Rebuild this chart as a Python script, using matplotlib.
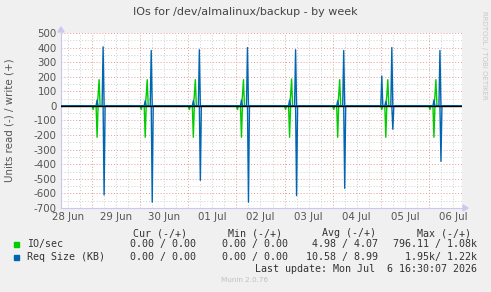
import numpy as np
import matplotlib
matplotlib.use("Agg")
import matplotlib.pyplot as plt
from matplotlib.patches import Rectangle

# ---------------- data ----------------
day_labels = ["28 Jun", "29 Jun", "30 Jun", "01 Jul", "02 Jul", "03 Jul", "04 Jul", "05 Jul", "06 Jul"]
spike_days = [1, 2, 3, 4, 5, 6, 7, 8]          # days (from 28 Jun) having the nightly burst
# IO/sec
io_read_small = [25, 25, 25, 25, 25, 25, 25, 25]
io_read_peak = [215, 215, 215, 215, 215, 215, 215, 215]
io_write_ramp = [70, 70, 70, 70, 70, 70, 70, 70]
io_write_peak = [180, 180, 180, 180, 185, 180, 180, 180]
# Req Size (KB)
size_write_small = [40, 35, 35, 40, 40, 35, 30, 40]
size_write_peak = [405, 380, 385, 400, 385, 380, 400, 380]
size_read_peak = [610, 660, 510, 660, 615, 565, 160, 380]
size_extra_day = [7]
size_extra_write = [205]
# burst times (hours after midnight)
t_io_read_small = 0.5
t_io_read_peak = 2.5
t_io_write_ramp = 3.0
t_io_write_peak = 3.5
t_size_write_small = 2.5
t_size_write_peak = 5.5
t_size_read_peak = 6.0
t_size_extra = 0.5

t_start, t_end, step = 8.5, 208.5, 0.5   # hours since 28 Jun 00:00

t = np.arange(t_start, t_end + step / 2, step)
io_r = np.zeros_like(t); io_w = np.zeros_like(t)
sz_r = np.zeros_like(t); sz_w = np.zeros_like(t)

def put(arr, hour, val):
    i = int(round((hour - t_start) / step))
    if 0 <= i < len(arr):
        arr[i] = val

for k, d in enumerate(spike_days):
    base = d * 24
    put(io_r, base + t_io_read_small, io_read_small[k])
    put(io_r, base + t_io_read_peak, io_read_peak[k])
    put(io_w, base + t_io_write_ramp, io_write_ramp[k])
    put(io_w, base + t_io_write_peak, io_write_peak[k])
    put(sz_w, base + t_size_write_small, size_write_small[k])
    put(sz_w, base + t_size_write_peak, size_write_peak[k])
    put(sz_r, base + t_size_read_peak, size_read_peak[k])
for d, v in zip(size_extra_day, size_extra_write):
    put(sz_w, d * 24 + t_size_extra, v)

GREEN = "#00CC00"
BLUE = "#0066B3"

# ---------------- figure ----------------
W, H = 491, 292
fig = plt.figure(figsize=(W / 100, H / 100), dpi=100, facecolor="#F0F0F0")
L, R, T, B = 61, 462, 33, 208
ax = fig.add_axes([L / W, 1 - B / H, (R - L) / W, (B - T) / H])
ax.set_facecolor("white")
ax.set_xlim(t_start, t_end)
ax.set_ylim(-700, 500)

# grid
MINOR = "#CFCFCF"
MAJOR = "#EE9999"
for y in np.arange(-650, 500, 100):
    ax.axhline(y, color=MINOR, lw=0.7, ls=(0, (1, 2)), zorder=1)
for y in np.arange(-600, 501, 100):
    ax.axhline(y, color=MAJOR, lw=0.7, ls=(0, (1, 2)), zorder=1)
for h in np.arange(12, t_end, 6):
    if h % 24 != 0:
        ax.axvline(h, color=MINOR, lw=0.7, ls=(0, (1, 2)), zorder=1)
for h in np.arange(24, t_end, 24):
    ax.axvline(h, color=MAJOR, lw=0.7, ls=(0, (1, 2)), zorder=1)

ax.plot(t, io_w, color=GREEN, lw=1.0, zorder=3)
ax.plot(t, -io_r, color=GREEN, lw=1.0, zorder=3)
ax.plot(t, sz_w, color=BLUE, lw=1.0, zorder=4)
ax.plot(t, -sz_r, color=BLUE, lw=1.0, zorder=4)
ax.axhline(0, color="black", lw=1.0, zorder=5)

for s in ["top", "right"]:
    ax.spines[s].set_visible(False)
for s in ["left", "bottom"]:
    ax.spines[s].set_color("#C8C8F0")
    ax.spines[s].set_linewidth(0.8)

ax.set_yticks(np.arange(-700, 501, 100))
ax.set_yticklabels([str(v) for v in range(-700, 501, 100)])
ax.set_xticks([12 + 24 * i for i in range(len(day_labels))])
ax.set_xticklabels(day_labels)
ax.tick_params(length=0, labelsize=7.4, colors="#555555", pad=3)

# axis arrows
fig.patches.append(plt.Polygon([[(L - 3) / W, 1 - (T - 1) / H], [(L + 3) / W, 1 - (T - 1) / H], [L / W, 1 - (T - 6) / H]],
                               closed=True, transform=fig.transFigure, color="#C8C8F0", zorder=10))
fig.patches.append(plt.Polygon([[(R + 1) / W, 1 - (B - 3) / H], [(R + 1) / W, 1 - (B + 3) / H], [(R + 6) / W, 1 - B / H]],
                               closed=True, transform=fig.transFigure, color="#C8C8F0", zorder=10))

def fx(x): return x / W
def fy(y): return 1 - y / H

fig.text(fx(245), fy(12), "IOs for /dev/almalinux/backup - by week", ha="center", va="center",
         fontsize=8, color="#444444")
fig.text(fx(10), fy(120), "Units read (-) / write (+)", rotation=90, ha="center", va="center",
         fontsize=7.4, color="#555555")
fig.text(fx(484), fy(55), "RRDTOOL / TOBI OETIKER", rotation=270, ha="center", va="center",
         fontsize=5, color="#C8C8C8")

mono = dict(family="DejaVu Sans Mono", fontsize=7.2, color="#333333", va="center")
fig.text(fx(133), fy(233), "Cur (-/+)", ha="left", **mono)
fig.text(fx(228), fy(233), "Min (-/+)", ha="left", **mono)
fig.text(fx(322), fy(233), "Avg (-/+)", ha="left", **mono)
fig.text(fx(417), fy(233), "Max (-/+)", ha="left", **mono)

rows = [
    ("IO/sec", GREEN, 244, "0.00 / 0.00", "0.00 / 0.00", "4.98 / 4.07", "796.11 / 1.08k"),
    ("Req Size (KB)", BLUE, 257, "0.00 / 0.00", "0.00 / 0.00", "10.58 / 8.99", "1.95k/ 1.22k"),
]
for name, col, y, cur, mn, avg, mx in rows:
    fig.patches.append(Rectangle((fx(14), fy(y + 2.5)), 5 / W, 5 / H, transform=fig.transFigure,
                                 color=col, zorder=10))
    fig.text(fx(27), fy(y), name, ha="left", **mono)
    fig.text(fx(130), fy(y), cur, ha="left", **mono)
    fig.text(fx(222), fy(y), mn, ha="left", **mono)
    fig.text(fx(378), fy(y), avg, ha="right", **mono)
    fig.text(fx(477), fy(y), mx, ha="right", **mono)

fig.text(fx(477), fy(269), "Last update: Mon Jul  6 16:30:07 2026", ha="right", **mono)
fig.text(fx(245), fy(280), "Munin 2.0.76", ha="center", va="center", fontsize=5.2, color="#C0C0C0")

fig.savefig("out.png", dpi=100, facecolor=fig.get_facecolor())
